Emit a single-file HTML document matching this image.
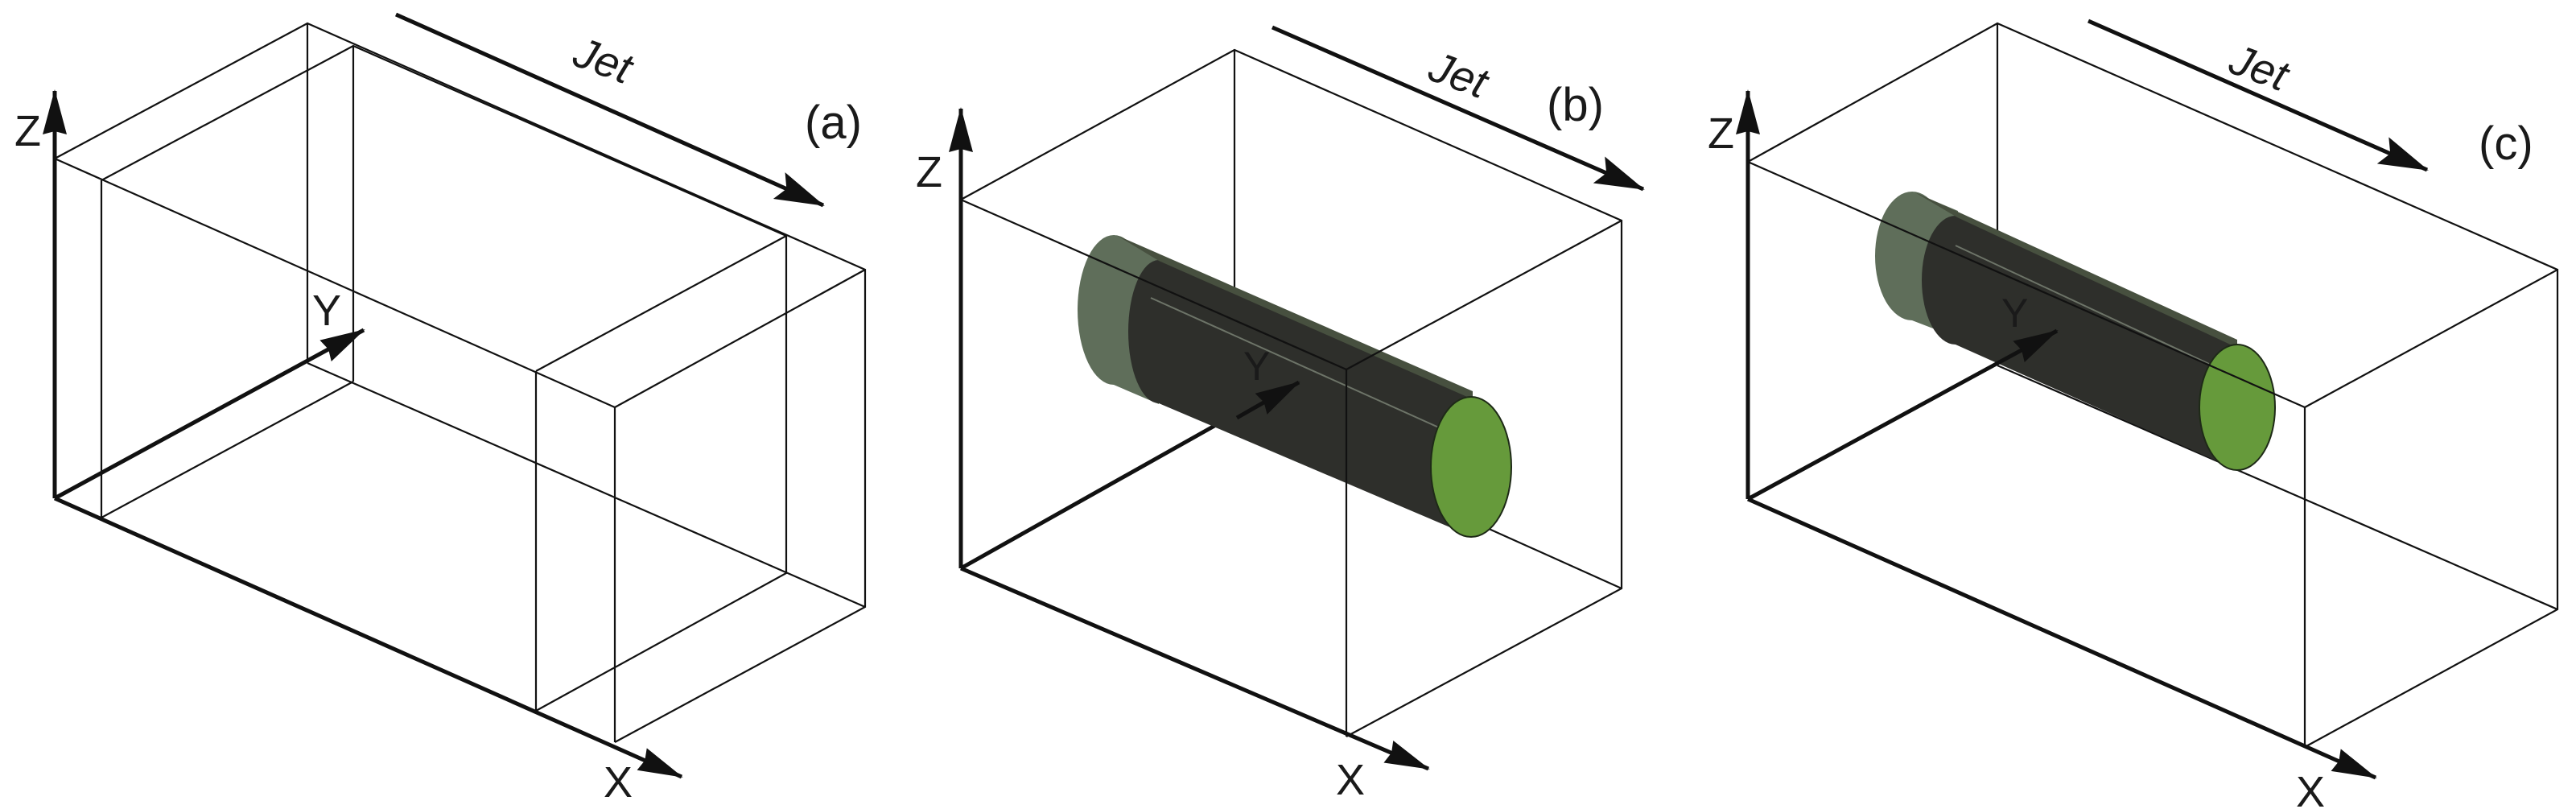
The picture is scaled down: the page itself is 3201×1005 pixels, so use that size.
<!DOCTYPE html>
<html><head><meta charset="utf-8"><style>
html,body{margin:0;padding:0;background:#fff;}
svg{display:block}
text{font-family:"Liberation Sans",sans-serif;fill:#1a1a1a}
</style></head><body>
<svg width="3201" height="1005" viewBox="0 0 3201 1005" xmlns="http://www.w3.org/2000/svg">
<defs>
<marker id="ah" markerUnits="userSpaceOnUse" markerWidth="66" markerHeight="40" refX="60" refY="20" orient="auto" viewBox="0 0 66 40">
<path d="M0,2 L62,20 L0,38 L10,20 Z" fill="#111"/>
</marker>
<marker id="ahs" markerUnits="userSpaceOnUse" markerWidth="58" markerHeight="34" refX="54" refY="17" orient="auto" viewBox="0 0 58 34">
<path d="M0,2 L56,17 L0,32 L4,17 Z" fill="#111"/>
</marker>
</defs>

<!-- ================= Panel (a) ================= -->
<g stroke="#111" stroke-width="2.2" fill="none">
<polyline points="68,197 382,29 1075,335 1075,754 764,922"/>
<line x1="382" y1="29" x2="382" y2="451"/>
<line x1="382" y1="451" x2="1075" y2="754"/>
<line x1="68" y1="197" x2="764" y2="506"/>
<line x1="764" y1="506" x2="1075" y2="335"/>
<line x1="764" y1="506" x2="764" y2="922"/>
<polyline points="126,224 439,57 977,293 977,712 666,883"/>
<line x1="126" y1="224" x2="126" y2="643"/>
<line x1="439" y1="57" x2="439" y2="474"/>
<line x1="126" y1="643" x2="439" y2="474"/>
<line x1="666" y1="461" x2="977" y2="293"/>
<line x1="666" y1="461" x2="666" y2="883"/>
</g>
<g stroke="#111" stroke-width="5" fill="none">
<line x1="68" y1="619" x2="68" y2="113" marker-end="url(#ahs)"/>
<line x1="68" y1="619" x2="847" y2="965" marker-end="url(#ahs)"/>
<line x1="68" y1="619" x2="452" y2="410" marker-end="url(#ahs)"/>
<line x1="492" y1="18" x2="1023" y2="255" marker-end="url(#ah)"/>
</g>
<text x="18" y="181" font-size="54">Z</text>
<text x="750" y="990" font-size="54">X</text>
<text x="388" y="404" font-size="54">Y</text>
<text x="712" y="92" font-size="54" font-style="italic" transform="rotate(20 745 78)">Jet</text>
<text x="1000" y="172" font-size="58">(a)</text>

<!-- ================= Panel (b) ================= -->
<g stroke="#111" stroke-width="2.2" fill="none">
<line x1="1534" y1="62" x2="1534" y2="515"/>
<line x1="1534" y1="515" x2="2015" y2="731"/>
<polyline points="1194,248 1534,62 2015,274 2015,731 1673,915"/>
</g>
<line x1="1194" y1="706" x2="1534" y2="515" stroke="#111" stroke-width="5"/>
<!-- cylinder b -->
<ellipse cx="1384" cy="385" rx="45" ry="93" fill="#5f6e5a"/>
<polygon points="1384,292 1440,318 1440,502 1384,478" fill="#5f6e5a"/>
<ellipse cx="1440" cy="412" rx="38" ry="89" fill="#2e2f2b"/>
<polygon points="1440,323 1830,493 1830,667 1440,501" fill="#2e2f2b"/>
<polygon points="1387,292 1830,486 1830,496 1440,324" fill="#47503f"/>
<line x1="1430" y1="370" x2="1790" y2="532" stroke="#6d7468" stroke-width="2"/>
<ellipse cx="1828" cy="580" rx="50" ry="87" fill="#669a3b" stroke="#1e2a17" stroke-width="2"/>
<g stroke="#111" stroke-width="2.2" fill="none">
<line x1="1194" y1="248" x2="1673" y2="459"/>
<line x1="1673" y1="459" x2="2015" y2="274"/>
<line x1="1673" y1="459" x2="1673" y2="915"/>
</g>
<g stroke="#111" stroke-width="5" fill="none">
<line x1="1194" y1="706" x2="1194" y2="135" marker-end="url(#ahs)"/>
<line x1="1194" y1="706" x2="1775" y2="955" marker-end="url(#ahs)"/>
<line x1="1537" y1="519" x2="1614" y2="475" marker-end="url(#ahs)"/>
<line x1="1581" y1="34" x2="2042" y2="235" marker-end="url(#ah)"/>
</g>
<text x="1138" y="232" font-size="54">Z</text>
<text x="1660" y="987" font-size="54">X</text>
<text x="1545" y="472" font-size="50" fill="#111">Y</text>
<text x="1775" y="110" font-size="54" font-style="italic" transform="rotate(20 1808 96)">Jet</text>
<text x="1922" y="150" font-size="58">(b)</text>

<!-- ================= Panel (c) ================= -->
<g stroke="#111" stroke-width="2.2" fill="none">
<line x1="2482" y1="29" x2="2482" y2="454"/>
<line x1="2482" y1="454" x2="3178" y2="757"/>
<polyline points="2172,201 2482,29 3178,335 3178,757 2864,928"/>
<line x1="2864" y1="506" x2="3178" y2="335"/>
<line x1="2864" y1="506" x2="2864" y2="928"/>
</g>
<!-- cylinder c -->
<ellipse cx="2376" cy="318" rx="46" ry="80" fill="#5f6e5a"/>
<polygon points="2376,238 2433,262 2433,420 2376,398" fill="#5f6e5a"/>
<ellipse cx="2430" cy="348" rx="42" ry="80" fill="#2e2f2b"/>
<polygon points="2430,268 2780,428 2780,584 2430,428" fill="#2e2f2b"/>
<polygon points="2378,238 2780,422 2780,432 2432,270" fill="#47503f"/>
<line x1="2430" y1="305" x2="2745" y2="452" stroke="#6d7468" stroke-width="2"/>
<ellipse cx="2780" cy="506" rx="47" ry="78" fill="#669a3b" stroke="#1e2a17" stroke-width="2"/>
<line x1="2172" y1="201" x2="2864" y2="506" stroke="#111" stroke-width="2.2"/>
<g stroke="#111" stroke-width="5" fill="none">
<line x1="2172" y1="620" x2="2172" y2="113" marker-end="url(#ahs)"/>
<line x1="2172" y1="620" x2="2952" y2="966" marker-end="url(#ahs)"/>
<line x1="2172" y1="620" x2="2556" y2="411" marker-end="url(#ahs)"/>
<line x1="2595" y1="26" x2="3016" y2="211" marker-end="url(#ah)"/>
</g>
<text x="2122" y="184" font-size="54">Z</text>
<text x="2853" y="1002" font-size="54">X</text>
<text x="2487" y="406" font-size="50" fill="#111">Y</text>
<text x="2770" y="100" font-size="54" font-style="italic" transform="rotate(20 2800 86)">Jet</text>
<text x="3080" y="198" font-size="58">(c)</text>
</svg>
</body></html>
